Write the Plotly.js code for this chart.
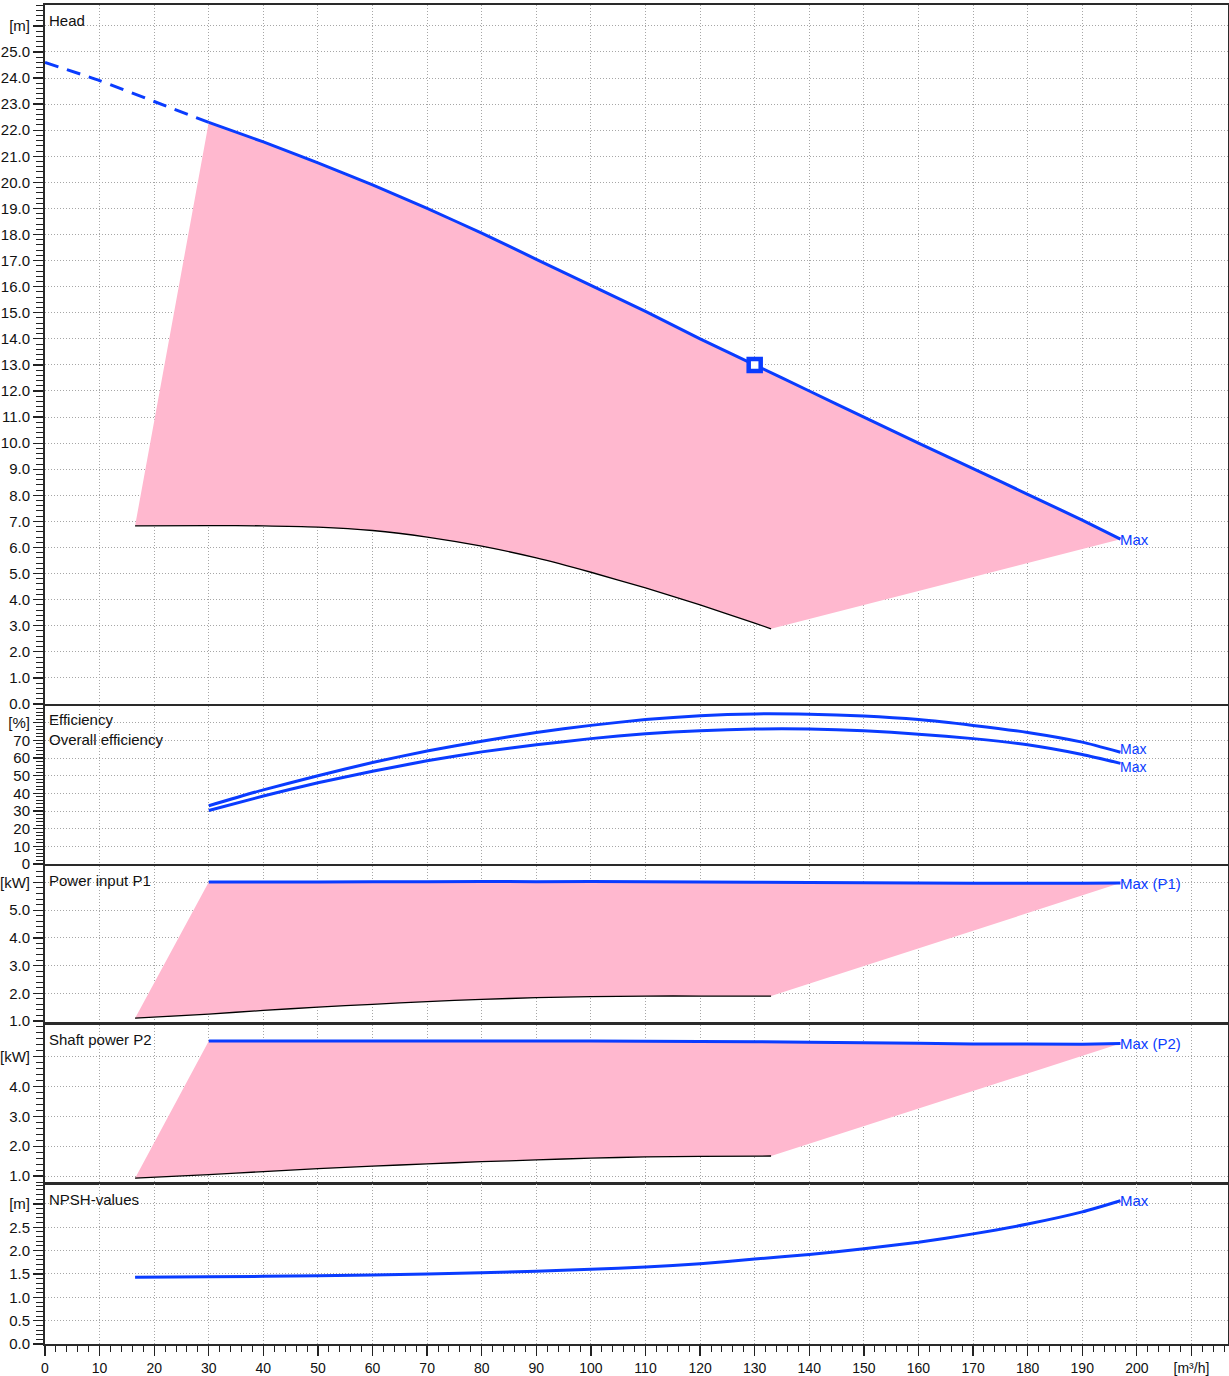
<!DOCTYPE html>
<html>
<head>
<meta charset="utf-8">
<script src="https://cdn.plot.ly/plotly-3.0.1.min.js"></script>
<style>html,body{margin:0;padding:0;background:#fff;}#chart{width:1229px;height:1376px;}</style>
</head>
<body>
<div id="chart"></div>
<script>
// ---------- DATA ----------
// Head [m]
const qHeadDash = [0, 10, 20, 30];
const hHeadDash = [24.6, 23.9, 23.1, 22.3];
const qHead = [30, 40, 50, 60, 70, 80, 90, 100, 110, 120, 130, 140, 150, 160, 170, 180, 190, 197];
const hHead = [22.3, 21.55, 20.75, 19.9, 19.0, 18.05, 17.05, 16.05, 15.05, 14.0, 13.0, 12.0, 11.0, 10.0, 9.02, 8.04, 7.05, 6.32];
const qHeadMin = [16.5, 30, 40, 50, 60, 70, 80, 90, 100, 110, 120, 130, 133];
const hHeadMin = [6.83, 6.84, 6.83, 6.78, 6.65, 6.4, 6.05, 5.6, 5.05, 4.45, 3.8, 3.1, 2.88];
const dutyQ = [130];
const dutyH = [13.0];

// Efficiency [%]
const qEff = [30, 40, 50, 60, 70, 80, 90, 100, 110, 120, 130, 140, 150, 160, 170, 180, 190, 197];
const effPump = [33, 42, 50, 57.5, 64, 69.5, 74.5, 78.5, 81.8, 84, 85, 84.8, 83.8, 81.8, 78.5, 74.5, 69, 63.3];
const effOverall = [30.3, 38.5, 46, 52.5, 58.5, 63.5, 67.5, 71, 73.8, 75.5, 76.5, 76.5, 75.5, 73.5, 71, 67.5, 62, 57];

// Power input P1 [kW]
const qP = [30, 50, 70, 90, 110, 130, 150, 170, 190, 197];
const p1Max = [6.02, 6.02, 6.03, 6.03, 6.03, 6.01, 5.99, 5.97, 5.97, 5.98];
const qPMin = [16.5, 30, 40, 50, 60, 70, 80, 90, 100, 110, 120, 133];
const p1Min = [1.1, 1.25, 1.38, 1.5, 1.6, 1.7, 1.78, 1.84, 1.88, 1.9, 1.9, 1.9];

// Shaft power P2 [kW]
const p2Max = [5.52, 5.52, 5.52, 5.52, 5.51, 5.49, 5.46, 5.42, 5.41, 5.43];
const p2Min = [0.93, 1.05, 1.15, 1.25, 1.33, 1.41, 1.48, 1.54, 1.6, 1.64, 1.66, 1.67];

// NPSH [m]
const qNpsh = [16.5, 30, 50, 70, 90, 100, 110, 120, 130, 140, 150, 160, 170, 180, 190, 197];
const npsh = [1.43, 1.44, 1.46, 1.5, 1.56, 1.6, 1.65, 1.72, 1.82, 1.92, 2.04, 2.18, 2.36, 2.57, 2.83, 3.07];

// Tick labels
const xTickVals = [0,10,20,30,40,50,60,70,80,90,100,110,120,130,140,150,160,170,180,190,200,210];
const xTickText = ["0","10","20","30","40","50","60","70","80","90","100","110","120","130","140","150","160","170","180","190","200","[m³/h]"];
const headTickVals = [0,1,2,3,4,5,6,7,8,9,10,11,12,13,14,15,16,17,18,19,20,21,22,23,24,25,26];
const headTickText = ["0.0","1.0","2.0","3.0","4.0","5.0","6.0","7.0","8.0","9.0","10.0","11.0","12.0","13.0","14.0","15.0","16.0","17.0","18.0","19.0","20.0","21.0","22.0","23.0","24.0","25.0","[m]"];
const effTickVals = [0,10,20,30,40,50,60,70,80];
const effTickText = ["0","10","20","30","40","50","60","70","[%]"];
const p1TickVals = [1,2,3,4,5,6];
const p1TickText = ["1.0","2.0","3.0","4.0","5.0","[kW]"];
const p2TickVals = [1,2,3,4,5];
const p2TickText = ["1.0","2.0","3.0","4.0","[kW]"];
const npshTickVals = [0,0.5,1,1.5,2,2.5,3];
const npshTickText = ["0.0","0.5","1.0","1.5","2.0","2.5","[m]"];

// ---------- STYLE ----------
const BLUE = "#0a3cff";
const PINK = "rgb(255,184,207)";
const FONT = "Liberation Sans, Arial, sans-serif";
const GRID = "#a6a6a6";

function band(qTop, yTop, qBot, yBot) {
  const xs = [qBot[0]].concat(qTop).concat(qBot.slice().reverse());
  const ys = [yBot[0]].concat(yTop).concat(yBot.slice().reverse());
  return {xs, ys};
}

const traces = [];
function addFill(b, xa, ya) {
  traces.push({x: b.xs, y: b.ys, xaxis: xa, yaxis: ya, type: "scatter", mode: "lines",
    fill: "toself", fillcolor: PINK, line: {width: 0, color: PINK}, hoverinfo: "skip"});
}
function addLine(x, y, xa, ya, color, width, dash) {
  traces.push({x, y, xaxis: xa, yaxis: ya, type: "scatter", mode: "lines",
    line: {color, width, dash: dash || "solid", shape: "spline", smoothing: 0.5}});
}

// Head
addFill(band(qHead, hHead, qHeadMin, hHeadMin), "x", "y");
addLine(qHeadMin, hHeadMin, "x", "y", "#000", 1.3);
addLine(qHeadDash, hHeadDash, "x", "y", BLUE, 3, "14px,9px");
addLine(qHead, hHead, "x", "y", BLUE, 3);
traces.push({x: dutyQ, y: dutyH, xaxis: "x", yaxis: "y", type: "scatter", mode: "markers",
  marker: {symbol: "square", size: 12, color: "#fff", line: {color: BLUE, width: 4.5}}});

// Efficiency
addLine(qEff, effPump, "x2", "y2", BLUE, 3);
addLine(qEff, effOverall, "x2", "y2", BLUE, 3);

// P1
addFill(band(qP, p1Max, qPMin, p1Min), "x3", "y3");
addLine(qPMin, p1Min, "x3", "y3", "#000", 1.3);
addLine(qP, p1Max, "x3", "y3", BLUE, 3);

// P2
addFill(band(qP, p2Max, qPMin, p2Min), "x4", "y4");
addLine(qPMin, p2Min, "x4", "y4", "#000", 1.3);
addLine(qP, p2Max, "x4", "y4", BLUE, 3);

// NPSH
addLine(qNpsh, npsh, "x5", "y5", BLUE, 3);

// ---------- AXES ----------
const XRANGE = [0, 216.7];
function xAxis(anchor, showLabels) {
  return {
    range: XRANGE, anchor, domain: [0, 1],
    tickmode: "array", tickvals: xTickVals, ticktext: xTickText,
    showticklabels: showLabels, ticks: showLabels ? "outside" : "", ticklen: 10, tickwidth: 1.3, tickcolor: "#222",
    minor: showLabels
      ? {tickmode: "linear", tick0: 0, dtick: 2, ticks: "outside", ticklen: 6, tickcolor: "#222", tickwidth: 1, showgrid: false}
      : {ticks: "", showgrid: false},
    showgrid: true, gridcolor: GRID, griddash: "1px,2px", gridwidth: 1,
    showline: true, mirror: true, linecolor: "#2a2a2a", linewidth: 2,
    zeroline: false, fixedrange: true,
    tickfont: {family: FONT, size: 14, color: "#111"}
  };
}
function yAxis(anchor, domain, range, vals, text, minorStep) {
  return {
    anchor, domain, range, tickmode: "array", tickvals: vals, ticktext: text,
    ticks: "outside", ticklen: 10, tickwidth: 1.3, tickcolor: "#222",
    minor: {tickmode: "linear", tick0: 0, dtick: minorStep, ticks: "outside", ticklen: 7, tickcolor: "#222", tickwidth: 1, showgrid: false},
    showgrid: true, gridcolor: GRID, griddash: "1px,2px", gridwidth: 1,
    showline: true, mirror: true, linecolor: "#2a2a2a", linewidth: 2,
    zeroline: false, fixedrange: true,
    tickfont: {family: FONT, size: 15, color: "#111"}
  };
}

const layout = {
  width: 1229, height: 1376,
  margin: {l: 45, r: 1, t: 5, b: 32, pad: 0},
  paper_bgcolor: "#fff", plot_bgcolor: "#fff",
  showlegend: false,
  font: {family: FONT, size: 15, color: "#111"},
  xaxis: xAxis("y", false),
  xaxis2: xAxis("y2", false),
  xaxis3: xAxis("y3", false),
  xaxis4: xAxis("y4", false),
  xaxis5: xAxis("y5", true),
  yaxis: yAxis("x", [0.478, 1.0], [0, 26.8], headTickVals, headTickText, 0.2),
  yaxis2: yAxis("x2", [0.3585, 0.4765], [0, 89.5], effTickVals, effTickText, 2),
  yaxis3: yAxis("x3", [0.2405, 0.357], [0.964, 6.595], p1TickVals, p1TickText, 0.2),
  yaxis4: yAxis("x4", [0.1202, 0.2382], [0.766, 6.05], p2TickVals, p2TickText, 0.2),
  yaxis5: yAxis("x5", [0, 0.1192], [0, 3.42], npshTickVals, npshTickText, 0.1),
  annotations: []
};

function title(text, ax, shift) {
  layout.annotations.push({text, xref: "x" + ax + " domain", yref: "y" + ax + " domain",
    x: 0, y: 1, xanchor: "left", yanchor: "top", xshift: 2, yshift: shift, showarrow: false,
    font: {family: FONT, size: 15, color: "#111"}});
}
title("Head", "", -5);
title("Efficiency", "2", -3);
title("Overall efficiency", "2", -23);
title("Power input P1", "3", -4);
title("Shaft power P2", "4", -4);
title("NPSH-values", "5", -5);

function endLabel(text, xs, ys, ax, yshift, size) {
  layout.annotations.push({text, xref: "x" + ax, yref: "y" + ax,
    x: xs[xs.length - 1], y: ys[ys.length - 1], xanchor: "left", yanchor: "middle",
    xshift: -2, yshift: yshift || 0, showarrow: false,
    font: {family: FONT, size: size || 15, color: BLUE}});
}
endLabel("Max", qHead, hHead, "", 0);
endLabel("Max", qEff, effPump, "2", 3, 14);
endLabel("Max", qEff, effOverall, "2", -4, 14);
endLabel("Max (P1)", qP, p1Max, "3", 0);
endLabel("Max (P2)", qP, p2Max, "4", 0);
endLabel("Max", qNpsh, npsh, "5", 0);

Plotly.newPlot("chart", traces, layout, {displayModeBar: false, staticPlot: true});
</script>
</body>
</html>
